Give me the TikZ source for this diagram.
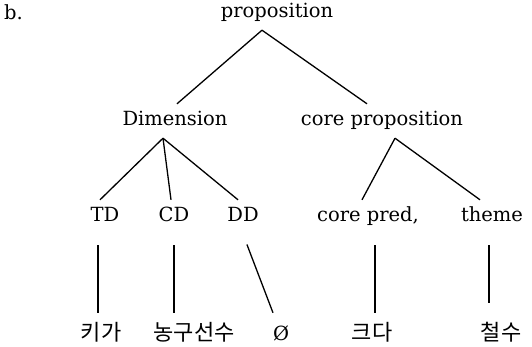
\documentclass[tikz,border=0pt]{standalone}
\usepackage{fontspec}
\setmainfont{DejaVu Serif}
\newfontfamily\kor{Noto Sans CJK KR}
\begin{document}
\begin{tikzpicture}[x=1pt,y=-1pt,
  w/.style={anchor=base,inner xsep=0pt,inner ysep=7pt,text height=15pt,text depth=5pt,
    font=\fontsize{19.5}{24}\selectfont},
  k/.style={w,text height=20pt,font=\kor\fontsize{22}{26}\selectfont},
  ln/.style={line width=1.3pt},
  lo/.style={ln,shorten <=11pt}]
  \useasboundingbox (0,0) rectangle (532,347);
  \node[w,anchor=base west] (lab) at (4,20) {b.};
  \node[w] (prop) at (277,18) {proposition};
  \node[w] (dim) at (175,126) {Dimension};
  \node[w] (core) at (382,126) {core proposition};
  \node[w] (td) at (105,222) {TD};
  \node[w] (cd) at (174,222) {CD};
  \node[w] (dd) at (243,222) {DD};
  \node[w] (cpred) at (368,222) {core pred,};
  \node[w] (theme) at (492,222) {theme};
  \node[k] (ki) at (101,340) {키가};
  \node[k] (nong) at (194,340) {농구선수};
  \node[k,font=\fontsize{19.5}{24}\selectfont] (zero) at (281,340) {Ø};
  \node[k] (keu) at (372,340) {크다};
  \node[k] (cheol) at (501,340) {철수};
  \draw[ln] ([xshift=-15pt]prop.south) -- ([xshift=2pt]dim.north);
  \draw[ln] ([xshift=-15pt]prop.south) -- ([xshift=-15pt]core.north);
  \draw[ln] ([xshift=-12pt]dim.south) -- ([xshift=-5pt]td.north);
  \draw[ln] ([xshift=-12pt]dim.south) -- ([xshift=-3pt]cd.north);
  \draw[ln] ([xshift=-12pt]dim.south) -- ([xshift=-5pt]dd.north);
  \draw[ln] ([xshift=13pt]core.south) -- ([xshift=-6pt]cpred.north);
  \draw[ln] ([xshift=13pt]core.south) -- ([xshift=-12pt]theme.north);
  \draw[lo] ([xshift=-7pt]td.south) -- ([xshift=-3pt]ki.north);
  \draw[lo] (cd.south) -- ([xshift=-20pt]nong.north);
  \draw[lo] (dd.south) -- ([xshift=-8pt]zero.north);
  \draw[lo] ([xshift=7pt]cpred.south) -- ([xshift=3pt]keu.north);
  \draw[lo,shorten >=10pt] ([xshift=-3pt]theme.south) -- ([xshift=-12pt]cheol.north);
\end{tikzpicture}
\end{document}
